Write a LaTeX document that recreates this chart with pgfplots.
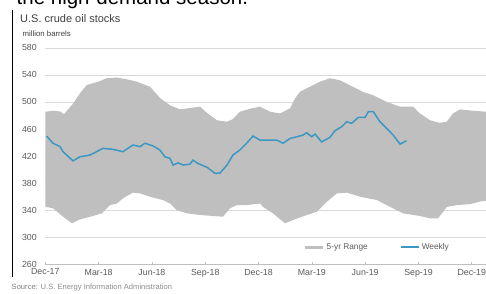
\documentclass[border=0pt]{standalone}
\usepackage{fontspec}
\setmainfont{Liberation Sans}
\usepackage{pgfplots}
\pgfplotsset{compat=1.18}
\definecolor{bandgray}{HTML}{BFBFBF}
\definecolor{weeklyblue}{HTML}{3A98C2}
\definecolor{gridgray}{HTML}{D9D9D9}
\definecolor{axisgray}{HTML}{BFBFBF}
\definecolor{labelgray}{HTML}{595959}
\definecolor{titlegray}{HTML}{404040}
\definecolor{srcgray}{HTML}{8C8C8C}
\begin{document}
\begin{tikzpicture}
\begin{axis}[
  name=ax,
  scale only axis, width=444.25pt, height=216.6pt,
  xmin=0, xmax=25, ymin=260, ymax=580,
  axis x line*=bottom, axis y line*=left,
  y axis line style={draw=none},
  x axis line style={draw=axisgray, line width=0.8pt},
  xtick={0,3,...,24},
  xticklabels={Dec-17,Mar-18,Jun-18,Sep-18,Dec-18,Mar-19,Jun-19,Sep-19,Dec-19},
  ytick={260,300,...,580},
  ymajorgrids, grid style={gridgray, line width=0.6pt},
  tick align=inside, major tick length=2.5pt,
  y tick style={draw=none},
  x tick style={axisgray, line width=0.6pt},
  /pgf/number format/assume math mode=true,
  ticklabel style={font=\fontsize{8.8}{10}\selectfont, text=labelgray},
  yticklabel style={xshift=-5pt},
  xticklabel style={yshift=-1pt},
  legend style={at={(axis cs:14.56,285)}, anchor=west, draw=none, fill=none,
    font=\fontsize{8.3}{10}\selectfont, inner sep=0pt,
    /tikz/every even column/.append style={column sep=30pt}},
  legend columns=2, legend cell align=left,
]
% 5-yr range: upper bound left to right, then lower bound right to left
\addplot[fill=bandgray, draw=none, forget plot] coordinates {
(0,485.5) (0.43,487) (0.83,486) (1.05,482) (1.58,498) (1.95,512.7) (2.33,525)
(2.98,530) (3.46,535) (4.02,536) (4.58,533.5) (5.14,530) (5.89,522.5) (6.45,506)
(7.02,495) (7.58,489) (8.14,491) (8.71,493) (9.11,483.6) (9.66,473) (10.23,470.8)
(10.56,474.7) (10.95,485.6) (11.52,490) (12.08,493) (12.64,485.6) (13.21,483)
(13.77,490.6) (14.05,505) (14.33,515) (14.89,522.5) (15.46,530) (16.02,535)
(16.58,532) (17.31,522.5) (17.87,515) (18.44,510) (19.22,500) (19.96,493)
(20.69,493) (21.08,483) (21.65,473) (22.21,469) (22.6,471) (22.94,483) (23.33,489)
(24.06,487) (24.8,485.6) (25,486)
(25,354) (24.63,354) (23.9,349) (23.17,347.7) (22.6,345) (22.1,328) (21.65,328)
(21.08,331.5) (20.13,335.5) (19.4,345) (18.67,355) (17.71,360) (16.98,366)
(16.41,365) (15.85,352.6) (15.29,338) (14.72,333) (13.94,325.6) (13.49,320.7)
(12.81,335.5) (12.25,345) (12.08,350) (11.34,347.7) (10.78,347.7) (10.4,343)
(10.0,330.5) (9.44,331.5) (8.71,333) (7.97,335.5) (7.41,340) (7.02,350)
(6.62,355) (5.89,360) (5.33,365) (4.93,366) (4.37,357.6) (4.03,350) (3.64,347.7)
(3.19,335.5) (2.68,331.5) (1.95,326.6) (1.5,320.7) (1.0,330.5) (0.43,343) (0,345)
} -- cycle;
\addplot[weeklyblue, line width=1.5pt, forget plot] coordinates {
(0.08,449.6) (0.43,439) (0.83,434) (1.0,426.5) (1.56,413) (1.95,419) (2.52,421.6)
(3.25,431.5) (3.81,430) (4.37,426.5) (4.93,436.4) (5.33,434) (5.61,439) (6.06,435)
(6.45,429) (6.73,419) (7.02,416.7) (7.19,406.8) (7.47,410) (7.75,406.8) (8.14,408)
(8.31,414) (8.6,409) (9.11,403.4) (9.55,394.5) (9.83,395) (10.23,406.8) (10.56,421.6)
(10.95,429) (11.33,439) (11.69,449.6) (12.08,443.7) (13.02,443.7) (13.38,439)
(13.77,446) (14.5,451) (14.71,454.5) (14.99,448.6) (15.18,452.6) (15.55,441)
(16.02,447.7) (16.3,457.5) (16.68,463.4) (16.96,470.8) (17.24,468.4) (17.62,477.3)
(18.0,477.3) (18.18,485.6) (18.46,485.6) (18.83,470.8) (19.21,461) (19.58,451)
(19.96,437.8) (20.33,442.7)
};
\addlegendimage{legend image code/.code={\draw[draw=bandgray, line width=2.5pt] (0pt,0pt) -- (18pt,0pt);}}
\addlegendentry{\textcolor{labelgray}{5-yr Range}}
\addlegendimage{legend image code/.code={\draw[draw=weeklyblue, line width=2pt] (0pt,0pt) -- (18pt,0pt);}}
\addlegendentry{\textcolor{labelgray}{Weekly}}
\end{axis}
\begin{scope}[shift={(ax.south west)}, x=1pt, y=1pt]
\node[anchor=base west, inner sep=0, font=\fontsize{20.5}{24}\selectfont] at (-28.8,260.4) {the high-demand season.};
\draw[black, line width=1.1pt] (-32.8,254.4) -- (-32.8,-12.6);
\node[anchor=base west, inner sep=0, text=titlegray, font=\fontsize{11}{13}\selectfont] at (-25.3,241.9) {U.S. crude oil stocks};
\node[anchor=base west, inner sep=0, text=titlegray, font=\fontsize{7.8}{9}\selectfont] at (-22.8,228.4) {million barrels};
\node[anchor=base west, inner sep=0, text=srcgray, font=\fontsize{7.6}{9}\selectfont] at (-33.8,-24.6) {\textcolor{gray}{Source:} U.S. Energy Information Administration};
\pgfresetboundingbox
\useasboundingbox (-45.3,-28.6) rectangle (440.7,264.4);
\end{scope}
\end{tikzpicture}
\end{document}
